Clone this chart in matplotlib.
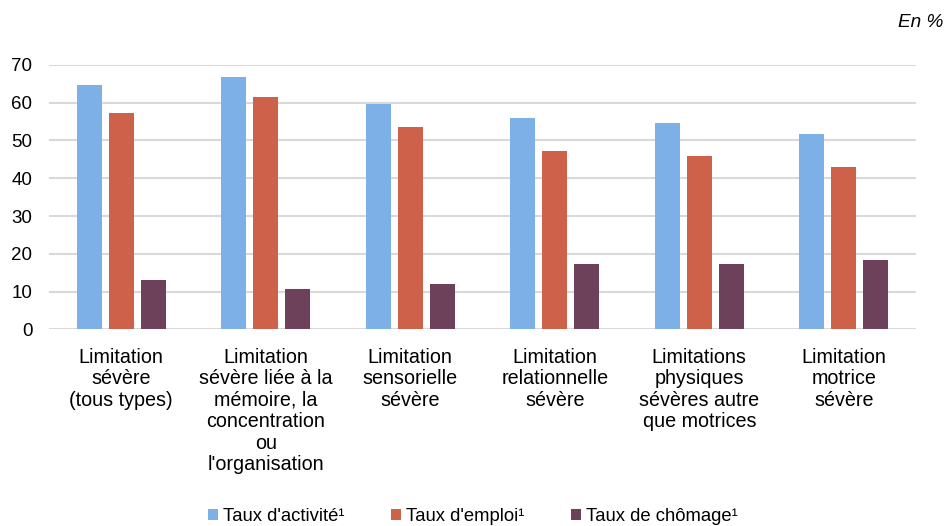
import matplotlib.pyplot as plt
import numpy as np

plt.rcParams['font.family'] = ['Liberation Sans', 'DejaVu Sans']

categories = ["Limitation\nsévère\n(tous types)",
              "Limitation\nsévère liée à la\nmémoire, la\nconcentration\nou\nl'organisation",
              "Limitation\nsensorielle\nsévère",
              "Limitation\nrelationnelle\nsévère",
              "Limitations\nphysiques\nsévères autre\nque motrices",
              "Limitation\nmotrice\nsévère"]
activite = [64.7, 66.7, 59.7, 55.9, 54.6, 51.7]
emploi = [57.3, 61.4, 53.4, 47.2, 45.9, 43.0]
chomage = [13.0, 10.7, 12.0, 17.4, 17.3, 18.3]

series = ["Taux d'activité¹", "Taux d'emploi¹", "Taux de chômage¹"]
colors = ['#7EB0E8', '#CD614A', '#6D4159']

fig = plt.figure(figsize=(9.46, 5.26), dpi=100)
ax = fig.add_axes([0.0518, 0.3736, 0.9165, 0.5034])

x = np.arange(len(categories))
w = 0.175
step = 0.221
for i, (vals, lab, c) in enumerate(zip([activite, emploi, chomage], series, colors)):
    ax.bar(x + (i - 1) * step, vals, w, color=c, label=lab, zorder=3)

ax.set_xlim(-0.5, len(categories) - 0.5)
ax.set_ylim(0, 70)
ax.set_yticks(np.arange(0, 71, 10))
ax.grid(axis='y', color='#D9D9D9', linewidth=1.5, zorder=0)
for s in ax.spines.values():
    s.set_visible(False)
ax.tick_params(axis='both', length=0, colors='black')
ax.tick_params(axis='y', pad=12, labelsize=13.5)
ax.tick_params(axis='x', pad=13, labelsize=14.2)
ax.set_xticks(x)
ax.set_xticklabels(categories, linespacing=1.17, va='top')

fig.text(0.997, 0.957, "En %", ha='right', va='center', style='italic', fontsize=13.7)

ax.legend(loc='center', bbox_to_anchor=(0.489, -0.707), ncol=3, frameon=False,
          fontsize=13.3, handlelength=0.54, handleheight=0.54, handletextpad=0.3,
          columnspacing=2.5)

fig.savefig('out.png', dpi=100)
